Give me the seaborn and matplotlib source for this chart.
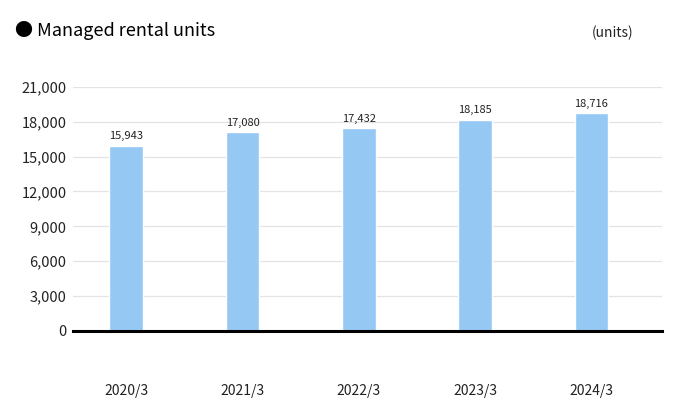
import matplotlib
matplotlib.use("Agg")
import matplotlib.pyplot as plt
import seaborn as sns
import pandas as pd

# data
years = ["2020/3", "2021/3", "2022/3", "2023/3", "2024/3"]
units = [15943, 17080, 17432, 18185, 18716]
yticks = [0, 3000, 6000, 9000, 12000, 15000, 18000, 21000]

df = pd.DataFrame({"Year": years, "Units": units})

sns.set_theme(style="white")
plt.rcParams['font.family'] = ['Noto Sans CJK JP', 'DejaVu Sans']

fig = plt.figure(figsize=(6.8, 4.12), dpi=100)
ax = fig.add_axes([0.108, 0.197, 0.866, 0.592])

sns.barplot(data=df, x="Year", y="Units", color="#95c9f4", width=0.29,
            saturation=1, ax=ax, zorder=3)

ax.set_ylim(0, 21000)
ax.set_xlim(-0.455, 4.61)
ax.set_yticks(yticks)
ax.set_yticklabels([f"{v:,}" for v in yticks], fontsize=10.5, color="#222222")
ax.yaxis.grid(True, color="#e3e3e3", linewidth=0.9, zorder=0)
ax.tick_params(axis="y", length=0, pad=5)
ax.tick_params(axis="x", length=0, pad=38, labelsize=10, labelcolor="#222222")
ax.set_xlabel("")
ax.set_ylabel("")

for s in ["top", "right", "left"]:
    ax.spines[s].set_visible(False)
ax.spines["bottom"].set_color("black")
ax.spines["bottom"].set_linewidth(2.2)
ax.spines["bottom"].set_zorder(5)

# value labels
for i, v in enumerate(units):
    ax.annotate(f"{v:,}", (i, v), xytext=(0, 3), textcoords="offset points",
                ha="center", va="bottom", fontsize=8, color="#222222")

fig.text(0.022, 0.925, "● Managed rental units", fontsize=13,
         color="black", va="center", ha="left")
fig.text(0.932, 0.92, "(units)", fontsize=10, color="#222222",
         va="center", ha="right")

fig.savefig("out.png", dpi=100)
